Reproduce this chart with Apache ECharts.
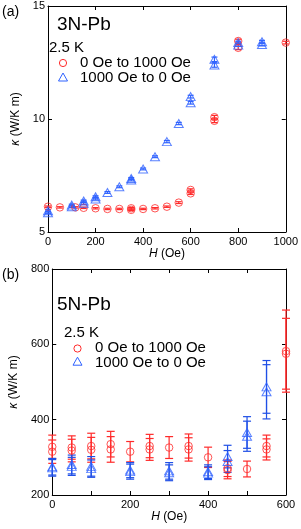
<!DOCTYPE html>
<html>
<head>
<meta charset="utf-8">
<script src="https://cdn.jsdelivr.net/npm/echarts@6/dist/echarts.min.js"></script>
<style>html,body{margin:0;padding:0;background:#fff;}#c{width:301px;height:529px;}</style>
</head>
<body>
<div id="c"></div>
<script>
// ---- Panel (a) 3N-Pb ----
var aUpH = [0, 50, 115, 150, 200, 250, 300, 350, 350, 400, 450, 500, 550, 600, 600, 700, 700, 800, 800, 1000];
var aUpK = [6.12, 6.09, 6.09, 6.07, 6.05, 6.02, 6.02, 6.05, 5.98, 6.02, 6.05, 6.12, 6.30, 6.86, 6.71, 10.08, 9.92, 13.45, 13.15, 13.38];
var aUpE = [0.03, 0.03, 0.03, 0.03, 0.03, 0.03, 0.03, 0.03, 0.03, 0.03, 0.03, 0.03, 0.04, 0.05, 0.05, 0.08, 0.08, 0.08, 0.08, 0.06];
var aDnH = [0, 0, 100, 100, 150, 150, 200, 200, 250, 300, 350, 350, 400, 450, 500, 550, 600, 600, 700, 700, 800, 800, 900, 900];
var aDnK = [5.94, 5.85, 6.19, 6.12, 6.37, 6.27, 6.56, 6.46, 6.75, 7.0, 7.37, 7.3, 7.79, 8.33, 9.0, 9.8, 10.99, 10.72, 12.64, 12.39, 13.38, 13.27, 13.42, 13.3];
var aDnE = [0.04, 0.04, 0.04, 0.04, 0.04, 0.04, 0.04, 0.04, 0.04, 0.04, 0.04, 0.04, 0.04, 0.04, 0.05, 0.05, 0.06, 0.06, 0.1, 0.1, 0.06, 0.06, 0.06, 0.06];
var aXTicks = [0, 1000, 200];
var aYTicks = [5, 15, 5];

// ---- Panel (b) 5N-Pb ----
var bUpH = [0, 0, 50, 50, 100, 100, 150, 150, 200, 250, 250, 300, 350, 350, 400, 450, 450, 500, 550, 550, 600, 600];
var bUpK = [328, 315, 326, 318, 330, 320, 335, 321, 315, 330, 321, 326, 330, 321, 300, 271, 266, 269, 330, 321, 582, 575];
var bUpE = [31, 31, 31, 30, 34, 33, 34, 34, 27, 31, 29, 29, 32, 31, 27, 22, 23, 21, 29, 28, 109, 94];
var bDnH = [0, 0, 50, 50, 100, 100, 200, 200, 300, 300, 400, 400, 450, 450, 500, 500, 550, 550];
var bDnK = [275, 272, 281, 276, 276, 270, 266, 262, 264, 259, 262, 258, 302, 289, 366, 356, 487, 474];
var bDnE = [22, 22, 25, 24, 26, 23, 20, 20, 22, 21, 18, 17, 30, 29, 42, 40, 70, 72];
var bXTicks = [0, 600, 100];
var bYTicks = [200, 800, 200];

var RED = '#ff2a2a', BLUE = '#2f62ff', BLUE_E = '#1f4fe6';
var FONT = '"Liberation Sans", Arial, Helvetica, sans-serif';

function zip3(h, k, e) { return h.map(function (v, i) { return [v, k[i], e[i]]; }); }

function errRenderer(color, capW) {
  return function (params, api) {
    var x = api.value(0), y = api.value(1), e = api.value(2);
    var t = api.coord([x, y + e]), b = api.coord([x, y - e]);
    var st = { stroke: color, lineWidth: 1.2 };
    return { type: 'group', children: [
      { type: 'line', shape: { x1: t[0], y1: t[1], x2: b[0], y2: b[1] }, style: st },
      { type: 'line', shape: { x1: t[0] - capW, y1: t[1], x2: t[0] + capW, y2: t[1] }, style: st },
      { type: 'line', shape: { x1: b[0] - capW, y1: b[1], x2: b[0] + capW, y2: b[1] }, style: st }
    ] };
  };
}

var plainFmt = function (v) { return String(v); };
var bFmt = function (v) { return v % 200 === 0 ? String(v) : ''; };

function xAx(grid, t, pos, showLabel, fmt, name, gap) {
  var o = {
    type: 'value', gridIndex: grid, position: pos, min: t[0], max: t[1], interval: t[2],
    axisLine: { show: true, onZero: false, lineStyle: { color: '#000', width: 1 } },
    axisTick: { show: true, inside: true, length: 4, lineStyle: { color: '#000' } },
    axisLabel: { show: showLabel, color: '#000', fontSize: 11, fontFamily: FONT, margin: 4, formatter: fmt },
    splitLine: { show: false }
  };
  if (name) {
    o.name = name; o.nameLocation = 'middle'; o.nameGap = gap;
    o.nameTextStyle = { color: '#000', fontSize: 12, fontFamily: FONT, rich: { i: { fontStyle: 'italic', fontSize: 12, fontFamily: FONT } } };
  }
  return o;
}
function yAx(grid, t, pos, showLabel, name, gap) {
  var o = {
    type: 'value', gridIndex: grid, position: pos, min: t[0], max: t[1], interval: t[2],
    axisLine: { show: true, onZero: false, lineStyle: { color: '#000', width: 1 } },
    axisTick: { show: true, inside: true, length: 4, lineStyle: { color: '#000' } },
    axisLabel: { show: showLabel, color: '#000', fontSize: 11, fontFamily: FONT, margin: 3, formatter: plainFmt },
    splitLine: { show: false }
  };
  if (name) {
    o.name = name; o.nameLocation = 'middle'; o.nameGap = gap;
    o.nameTextStyle = { color: '#000', fontSize: 12, fontFamily: FONT, rich: { i: { fontStyle: 'italic', fontSize: 12, fontFamily: FONT } } };
  }
  return o;
}

function txt(left, top, text, size) {
  return { type: 'text', left: left, top: top, style: { text: text, fill: '#000', font: size + 'px ' + FONT } };
}
function circ(cx, cy, color) {
  return { type: 'circle', shape: { cx: cx, cy: cy, r: 3.6 }, style: { fill: 'none', stroke: color, lineWidth: 1 } };
}
function tri(cx, cy, color) {
  return { type: 'polygon', shape: { points: [[cx, cy - 4.5], [cx + 4.5, cy + 3.5], [cx - 4.5, cy + 3.5]] }, style: { fill: 'none', stroke: color, lineWidth: 1 } };
}

var chart = echarts.init(document.getElementById('c'), null, { renderer: 'canvas' });
chart.setOption({
  animation: false,
  backgroundColor: '#fff',
  grid: [
    { left: 48, top: 6, width: 238, height: 226 },
    { left: 48, top: 269, width: 238, height: 226 }
  ],
  xAxis: [
    xAx(0, aXTicks, 'bottom', true, plainFmt, '{i|H} (Oe)', 15),
    xAx(0, aXTicks, 'top', false, plainFmt),
    xAx(1, bXTicks, 'bottom', true, bFmt, '{i|H} (Oe)', 14),
    xAx(1, bXTicks, 'top', false, bFmt)
  ],
  yAxis: [
    yAx(0, aYTicks, 'left', true, '{i|κ} (W/K m)', 10),
    yAx(0, aYTicks, 'right', false),
    yAx(1, bYTicks, 'left', true, '{i|κ} (W/K m)', 16),
    yAx(1, bYTicks, 'right', false)
  ],
  series: [
    { type: 'custom', xAxisIndex: 0, yAxisIndex: 0, data: zip3(aUpH, aUpK, aUpE), renderItem: errRenderer(RED, 3), z: 2 },
    { type: 'custom', xAxisIndex: 0, yAxisIndex: 0, data: zip3(aDnH, aDnK, aDnE), renderItem: errRenderer(BLUE, 3), z: 2 },
    { type: 'scatter', xAxisIndex: 0, yAxisIndex: 0, data: zip3(aUpH, aUpK, aUpE), symbol: 'circle', symbolSize: 7.5,
      itemStyle: { color: 'rgba(0,0,0,0)', borderColor: RED, borderWidth: 1 }, z: 3 },
    { type: 'scatter', xAxisIndex: 0, yAxisIndex: 0, data: zip3(aDnH, aDnK, aDnE), symbol: 'triangle', symbolSize: [9, 8],
      itemStyle: { color: 'rgba(0,0,0,0)', borderColor: BLUE, borderWidth: 1 }, z: 3 },
    { type: 'custom', xAxisIndex: 2, yAxisIndex: 2, data: zip3(bUpH, bUpK, bUpE), renderItem: errRenderer(RED, 4), z: 2 },
    { type: 'custom', xAxisIndex: 2, yAxisIndex: 2, data: zip3(bDnH, bDnK, bDnE), renderItem: errRenderer(BLUE_E, 4), z: 2 },
    { type: 'scatter', xAxisIndex: 2, yAxisIndex: 2, data: zip3(bUpH, bUpK, bUpE), symbol: 'circle', symbolSize: 7.5,
      itemStyle: { color: 'rgba(0,0,0,0)', borderColor: RED, borderWidth: 1 }, z: 3 },
    { type: 'scatter', xAxisIndex: 2, yAxisIndex: 2, data: zip3(bDnH, bDnK, bDnE), symbol: 'triangle', symbolSize: [9, 8],
      itemStyle: { color: 'rgba(0,0,0,0)', borderColor: BLUE, borderWidth: 1 }, z: 3 }
  ],
  graphic: [
    txt(2, 5, '(a)', 14),
    txt(57, 15, '3N-Pb', 19),
    txt(49, 40, '2.5 K', 15),
    circ(63, 63, RED), txt(80, 55, '0 Oe to 1000 Oe', 15),
    tri(63, 77.5, BLUE), txt(80, 70, '1000 Oe to 0 Oe', 15),
    txt(2, 268, '(b)', 14),
    txt(57, 295, '5N-Pb', 19),
    txt(64, 325, '2.5 K', 15),
    circ(77.5, 348.5, RED), txt(95, 340, '0 Oe to 1000 Oe', 15),
    tri(77.5, 361.7, BLUE), txt(95, 355, '1000 Oe to 0 Oe', 15)
  ]
});
</script>
</body>
</html>
